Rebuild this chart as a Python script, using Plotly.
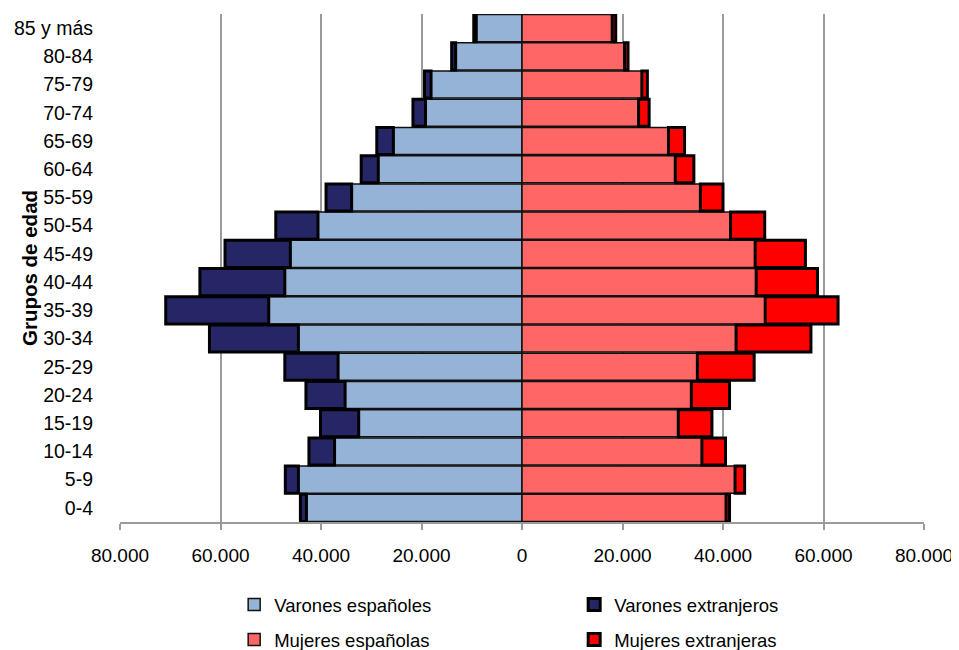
import plotly.graph_objects as go

grupos = ["0-4", "5-9", "10-14", "15-19", "20-24", "25-29", "30-34", "35-39",
          "40-44", "45-49", "50-54", "55-59", "60-64", "65-69", "70-74", "75-79",
          "80-84", "85 y más"]

varones_espanoles = [42900, 44500, 37300, 32500, 35200, 36600, 44500, 50400,
                     47200, 46100, 40600, 33900, 28600, 25600, 19200, 18100,
                     13200, 9100]
varones_extranjeros = [1200, 2600, 5100, 7600, 7800, 10600, 17700, 20500,
                       16900, 13000, 8400, 5100, 3400, 3300, 2500, 1300,
                       800, 500]
mujeres_espanolas = [40600, 42400, 35800, 31100, 33700, 34900, 42600, 48400,
                     46600, 46400, 41500, 35500, 30500, 29150, 23200, 23850,
                     20400, 17950]
mujeres_extranjeras = [700, 1900, 4700, 6700, 7600, 11300, 14900, 14500,
                       12200, 10000, 6800, 4500, 3700, 3200, 2100, 1100,
                       700, 700]

tick_vals = [-80000, -60000, -40000, -20000, 0, 20000, 40000, 60000, 80000]
tick_text = ["80.000", "60.000", "40.000", "20.000", "0", "20.000", "40.000",
             "60.000", "80.000"]

# The page body has an 8px default margin; the figure is sized to compensate.
PAGE_OFFSET = 8
PLOT_LEFT, PLOT_TOP, PLOT_W, PLOT_H = 120, 14, 804, 508

fig = go.Figure()
fig.add_trace(go.Bar(
    y=grupos, x=[-v for v in varones_espanoles], orientation="h",
    name="Varones españoles", legend="legend",
    marker=dict(color="#95B3D7", line=dict(color="#111111", width=1.5))))
fig.add_trace(go.Bar(
    y=grupos, x=[-v for v in varones_extranjeros], orientation="h",
    name="Varones extranjeros", legend="legend",
    marker=dict(color="#262666", line=dict(color="#000000", width=3))))
fig.add_trace(go.Bar(
    y=grupos, x=mujeres_espanolas, orientation="h",
    name="Mujeres españolas", legend="legend2",
    marker=dict(color="#FF6666", line=dict(color="#111111", width=1.5))))
fig.add_trace(go.Bar(
    y=grupos, x=mujeres_extranjeras, orientation="h",
    name="Mujeres extranjeras", legend="legend2",
    marker=dict(color="#FF0000", line=dict(color="#000000", width=3))))

legend_common = dict(orientation="h", x=0.142, xanchor="left", yanchor="middle",
                     entrywidth=295, entrywidthmode="pixels", traceorder="normal",
                     font=dict(size=18.5), itemwidth=30, bgcolor="rgba(0,0,0,0)")

W, H = 959 - PAGE_OFFSET, 650 - PAGE_OFFSET
ml = PLOT_LEFT - PAGE_OFFSET
mt = PLOT_TOP - PAGE_OFFSET
fig.update_layout(
    width=W, height=H,
    margin=dict(l=ml, r=W - ml - PLOT_W, t=mt, b=H - mt - PLOT_H, autoexpand=False),
    barmode="relative", bargap=0.04,
    paper_bgcolor="white", plot_bgcolor="white",
    font=dict(family="Liberation Sans, Arial, sans-serif", size=18, color="#000000"),
    showlegend=True,
    legend=dict(legend_common, y=(522 - 605) / 508),
    legend2=dict(legend_common, y=(522 - 640) / 508),
    xaxis=dict(range=[-80000, 80000], tickvals=tick_vals, ticktext=tick_text,
               tickfont=dict(size=19),
               showgrid=True, gridcolor="#9A9A9A", gridwidth=1.5,
               zeroline=True, zerolinecolor="#8A8A8A", zerolinewidth=2,
               showline=True, linecolor="#9A9A9A", linewidth=2,
               ticks="outside", ticklen=6, tickcolor="#9A9A9A", tickwidth=1.5,
               ticklabelstandoff=9, fixedrange=True, automargin=False),
    yaxis=dict(categoryorder="array", categoryarray=grupos,
               tickfont=dict(size=19.5),
               showgrid=False, zeroline=False, showline=False,
               ticks="", ticklabelstandoff=26, fixedrange=True, automargin=False),
    annotations=[dict(text="<b>Grupos de edad</b>", xref="paper", yref="paper",
                      x=(29 - 120) / 804, y=0.5, xanchor="center", yanchor="middle",
                      textangle=-90, showarrow=False, font=dict(size=20.5))],
)

fig.write_html("out.html")
